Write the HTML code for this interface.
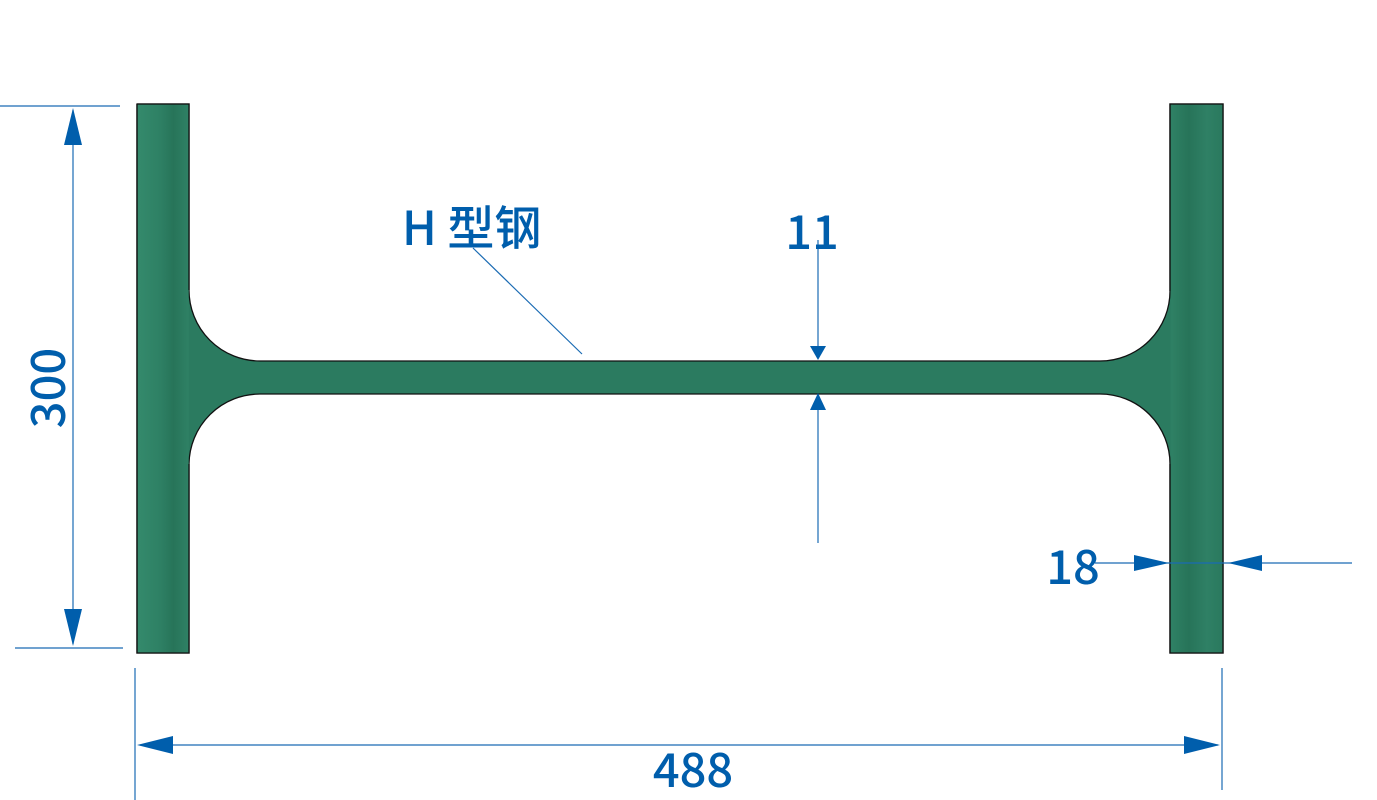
<!DOCTYPE html>
<html><head><meta charset="utf-8"><style>html,body{margin:0;padding:0;background:#fff;}svg{display:block}</style></head>
<body>
<svg width="1377" height="800" viewBox="0 0 1377 800" xmlns="http://www.w3.org/2000/svg">
<defs>
<linearGradient id="fl" x1="0" x2="1" y1="0" y2="0">
<stop offset="0" stop-color="#348a6c"/><stop offset="0.45" stop-color="#2e8064"/><stop offset="0.7" stop-color="#277459"/><stop offset="1" stop-color="#2f8165"/>
</linearGradient>
<linearGradient id="fr" x1="0" x2="1" y1="0" y2="0">
<stop offset="0" stop-color="#2f8165"/><stop offset="0.35" stop-color="#277459"/><stop offset="0.7" stop-color="#2f8065"/><stop offset="1" stop-color="#2a795e"/>
</linearGradient>
</defs>
<path d="M137,104 H189 V290 A71,71 0 0 0 260,361 H1100 A70,70 0 0 0 1170,291 V104 H1223 V653 H1170 V464 A70,70 0 0 0 1100,394 H260 A71,71 0 0 0 189,464 V653 H137 Z" fill="#2b7b60" stroke="#111" stroke-width="1.3"/>
<rect x="137.7" y="104.7" width="51" height="548" fill="url(#fl)"/>
<rect x="1170.7" y="104.7" width="51.8" height="548" fill="url(#fr)"/>
<g fill="none" stroke="#111" stroke-width="1.3">
<path d="M137,104 H189 V290"/>
<path d="M189,464 V653 H137 V104"/>
<path d="M1170,291 V104 H1223 V653 H1170 V464"/>
</g>
<g stroke="#1a6bb3" stroke-width="1.2" fill="none">
<line x1="0" y1="106" x2="120" y2="106"/>
<line x1="15" y1="648" x2="123" y2="648"/>
<line x1="73" y1="110" x2="73" y2="644"/>
<line x1="135" y1="668" x2="135" y2="800"/>
<line x1="1222" y1="668" x2="1222" y2="790"/>
<line x1="140" y1="745" x2="1218" y2="745"/>
<line x1="818" y1="240" x2="818" y2="350"/>
<line x1="818" y1="402" x2="818" y2="543"/>
<line x1="1095" y1="563" x2="1352" y2="563"/>
<line x1="473" y1="248" x2="582" y2="354"/>
</g>
<g fill="#005eac">
<polygon points="73,108 64,145 82,145"/>
<polygon points="73,646 64,609 82,609"/>
<polygon points="137,745 173,736 173,754"/>
<polygon points="1220,745 1184,736 1184,754"/>
<polygon points="818,360 810,346 826,346"/>
<polygon points="818,393 810,410 826,410"/>
<polygon points="1169,563 1134,555 1134,571"/>
<polygon points="1228,563 1262,555 1262,571"/>
</g>
<g fill="#005eac" font-family="'Noto Sans CJK SC','Liberation Sans',sans-serif" font-size="47" font-weight="500">
<text x="402" y="245">H 型钢</text>
<text x="812" y="249" text-anchor="middle">11</text>
<text x="1073" y="584" text-anchor="middle">18</text>
<text x="693" y="787" text-anchor="middle">488</text>
<text transform="translate(65,388) rotate(-90)" text-anchor="middle">300</text>
</g>
</svg>
</body></html>
